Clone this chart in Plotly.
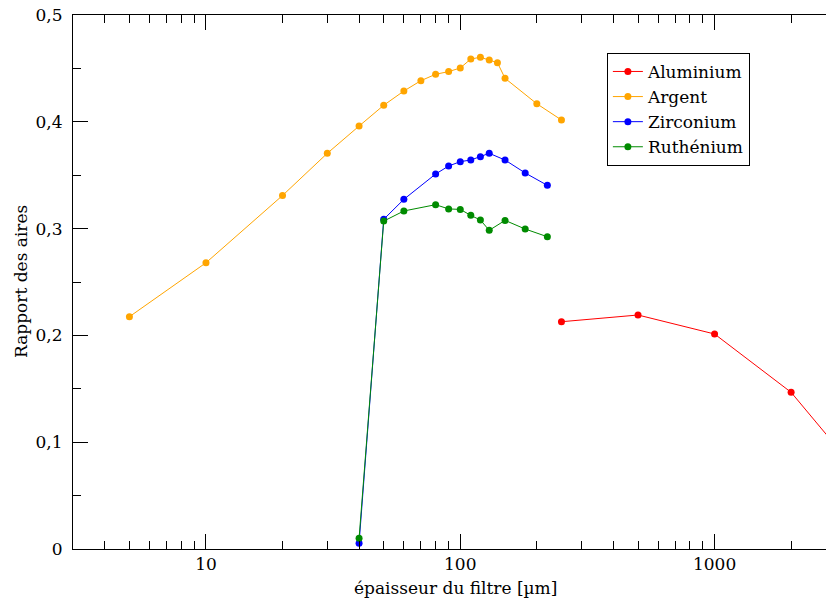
import math
import plotly.graph_objects as go

# Data
argent_x = [5, 10, 20, 30, 40, 50, 60, 70, 80, 90, 100, 110, 120, 130, 140, 150, 200, 250]
argent_y = [0.2175, 0.268, 0.331, 0.3705, 0.396, 0.4155, 0.4288, 0.4385, 0.4445, 0.447, 0.4504,
            0.4588, 0.4604, 0.4579, 0.4554, 0.4407, 0.4169, 0.4017]

zirc_x = [40, 50, 60, 80, 90, 100, 110, 120, 130, 150, 180, 220]
zirc_y = [0.0053, 0.3087, 0.3274, 0.3511, 0.3586, 0.3627, 0.3642, 0.3673, 0.3705, 0.3642, 0.3521, 0.3405]

ruth_x = [40, 50, 60, 80, 90, 100, 110, 120, 130, 150, 180, 220]
ruth_y = [0.010, 0.307, 0.3165, 0.3224, 0.3184, 0.318, 0.3124, 0.308, 0.2984, 0.3077, 0.2996, 0.2924]

alu_x = [250, 500, 1000, 2000, 3000]
alu_y = [0.2128, 0.2191, 0.2013, 0.1467, 0.0965]

x_major = [10, 100, 1000]
x_major_labels = ["10", "100", "1000"]
x_minor = [4, 5, 6, 7, 8, 9, 20, 30, 40, 50, 60, 70, 80, 90,
           200, 300, 400, 500, 600, 700, 800, 900, 2000, 3000]

x_title = "épaisseur du filtre [µm]"
y_title = "Rapport des aires"

FONT = "DejaVu Serif"

fig = go.Figure()

def add(name, xs, ys, color):
    fig.add_trace(go.Scatter(
        x=xs, y=ys, name=name, mode="lines+markers",
        line=dict(color=color, width=1),
        marker=dict(color=color, size=7),
    ))

add("Aluminium", alu_x, alu_y, "#ff0000")
add("Argent", argent_x, argent_y, "#ffa500")
add("Zirconium", zirc_x, zirc_y, "#0000ff")
add("Ruthénium", ruth_x, ruth_y, "#008b00")

# plot area spans 753 px (73..826); one decade = 254.3 px
left_log = math.log10(3)
right_log = left_log + 753 / 254.3

fig.update_layout(
    width=826, height=600,
    margin=dict(l=73, r=0, t=15, b=51, autoexpand=False),
    paper_bgcolor="white", plot_bgcolor="white",
    font=dict(family=FONT, size=17, color="black"),
    separators=", ",
    showlegend=True,
    legend=dict(
        x=0.709, y=0.929, xanchor="left", yanchor="top",
        bordercolor="black", borderwidth=1, bgcolor="white",
        font=dict(family=FONT, size=17),
        tracegroupgap=0, itemwidth=30,
    ),
    xaxis=dict(
        type="log", range=[left_log, right_log],
        showgrid=False, zeroline=False,
        showline=True, linecolor="black", linewidth=1, mirror="ticks",
        ticks="inside", ticklen=15, tickwidth=1, tickcolor="black",
        tickmode="array", tickvals=x_major, ticktext=x_major_labels,
        minor=dict(ticks="inside", ticklen=8, tickwidth=1, tickcolor="black",
                   tickmode="array", tickvals=x_minor, showgrid=False),
        tickfont=dict(family=FONT, size=17),
        ticklabeloverflow="allow",
    ),
    yaxis=dict(
        range=[0, 0.5],
        showgrid=False, zeroline=False,
        showline=True, linecolor="black", linewidth=1, mirror=False,
        ticks="inside", ticklen=15, tickwidth=1, tickcolor="black",
        tickmode="linear", tick0=0, dtick=0.1,
        minor=dict(ticks="inside", ticklen=8, tickwidth=1, tickcolor="black",
                   dtick=0.05, showgrid=False),
        ticklabelstandoff=6,
        ticklabeloverflow="allow",
        tickfont=dict(family=FONT, size=17),
    ),
    yaxis2=dict(
        overlaying="y", side="right", range=[0, 0.5],
        showgrid=False, zeroline=False, showline=False,
        ticks="inside", ticklen=6, tickwidth=1, tickcolor="black",
        tickmode="linear", tick0=0, dtick=0.1,
        showticklabels=False,
    ),
    annotations=[
        dict(text=x_title, xref="paper", yref="paper",
             x=(455 - 73) / 753, y=(549 - 588) / 534,
             xanchor="center", yanchor="middle", showarrow=False,
             font=dict(family=FONT, size=17)),
        dict(text=y_title, xref="paper", yref="paper",
             x=(21 - 73) / 753, y=0.5, textangle=-90,
             xanchor="center", yanchor="middle", showarrow=False,
             font=dict(family=FONT, size=17)),
    ],
)

fig.write_html("out.html", config={"displayModeBar": False},
               post_script="document.body.style.margin='0';")
